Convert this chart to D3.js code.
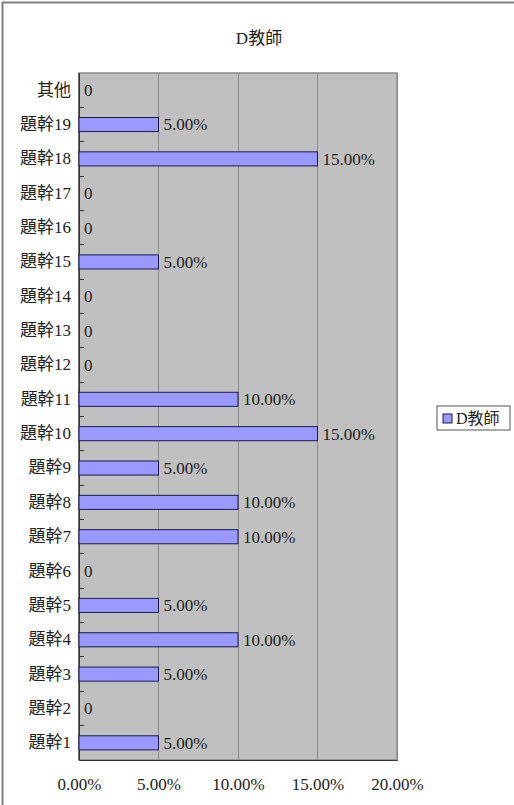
<!DOCTYPE html>
<html><head><meta charset="utf-8">
<script src="https://cdn.jsdelivr.net/npm/d3@7"></script>
<style>body{margin:0;background:#fff}svg{display:block}text{font-family:"Liberation Serif","Noto Sans CJK TC",serif}</style>
</head><body><svg id="c" width="514" height="805"></svg>
<script>
const categories = ["題幹1","題幹2","題幹3","題幹4","題幹5","題幹6","題幹7","題幹8","題幹9","題幹10","題幹11","題幹12","題幹13","題幹14","題幹15","題幹16","題幹17","題幹18","題幹19","其他"];
const values = [0.05,0,0.05,0.10,0.05,0,0.10,0.10,0.05,0.15,0.10,0,0,0,0.05,0,0,0.15,0.05,0];
const xTicks = [0,0.05,0.10,0.15,0.20];
const seriesName = "D教師";
const title = "D教師";

const svg = d3.select("#c");
// outer frame
svg.append("rect").attr("x",2.5).attr("y",2.5).attr("width",520).attr("height",820)
  .attr("fill","none").attr("stroke","#808080").attr("stroke-width",2);

const L=79, R=397, T=73, B=760;
const FONT = "'Liberation Serif', 'Noto Sans CJK TC', serif";
const x = d3.scaleLinear().domain([0,0.20]).range([L,R]);
const y = d3.scaleBand().domain(categories.slice().reverse()).range([T,B]).paddingInner(0.59).paddingOuter(0.295);
const yb = d3.scaleBand().domain(categories.slice().reverse()).range([T,B]);

svg.append("rect").attr("x",L).attr("y",T).attr("width",R-L).attr("height",B-T).attr("fill","#C0C0C0");
// gridlines
svg.append("g").selectAll("line").data(xTicks.slice(1)).join("line")
  .attr("x1",d=>x(d)).attr("x2",d=>x(d)).attr("y1",T).attr("y2",B)
  .attr("stroke","#8a8a8a").attr("stroke-width",1).attr("shape-rendering","crispEdges");
// plot border
svg.append("rect").attr("x",L).attr("y",T).attr("width",R-L).attr("height",B-T)
  .attr("fill","none").attr("stroke","#8a8a8a").attr("stroke-width",1.5);

// x axis
const xa = svg.append("g").attr("transform",`translate(0,${B})`)
  .call(d3.axisBottom(x).tickValues(xTicks).tickFormat(d=>(d*100).toFixed(2)+"%").tickSize(0).tickPadding(18));
xa.select(".domain").attr("stroke","#333").attr("stroke-width",1);
xa.selectAll("text").attr("font-size",17).attr("fill","#222").attr("font-family",FONT);

// y axis
const ya = svg.append("g").attr("transform",`translate(${L},0)`)
  .call(d3.axisLeft(y).tickSize(0).tickPadding(8));
ya.select(".domain").attr("stroke","#333");
ya.selectAll("text").attr("font-size",17).attr("fill","#222").attr("font-family",FONT);
// y tick marks at category boundaries (inside)
svg.append("g").selectAll("line").data(categories.slice(1)).join("line")
  .attr("x1",L).attr("x2",L+5).attr("y1",d=>yb(d)+yb.bandwidth()).attr("y2",d=>yb(d)+yb.bandwidth())
  .attr("stroke","#333").attr("shape-rendering","crispEdges");
svg.append("line").attr("x1",L).attr("x2",L).attr("y1",T).attr("y2",B).attr("stroke","#333");

// bars
svg.append("g").selectAll("rect").data(categories.map((c,i)=>({c,v:values[i]})).filter(d=>d.v>0)).join("rect")
  .attr("x",L).attr("y",d=>y(d.c)).attr("width",d=>x(d.v)-L).attr("height",y.bandwidth())
  .attr("fill","#9999FF").attr("stroke","#1a1a4d").attr("stroke-width",1);

// labels
svg.append("g").selectAll("text").data(categories.map((c,i)=>({c,v:values[i]}))).join("text")
  .attr("x",d=>x(d.v)+5).attr("y",d=>y(d.c)+y.bandwidth()/2).attr("dy","0.35em")
  .attr("font-size",17).attr("fill","#222").attr("font-family",FONT)
  .text(d=>d.v>0?(d.v*100).toFixed(2)+"%":"0");

// title
svg.append("text").attr("x",259).attr("y",44).attr("text-anchor","middle").attr("font-size",17).attr("fill","#222").attr("font-family",FONT).text(title);

// legend
const lg = svg.append("g").attr("transform","translate(437,406)");
lg.append("rect").attr("x",0).attr("y",0).attr("width",73).attr("height",24).attr("fill","#fff").attr("stroke","#555");
lg.append("rect").attr("x",6).attr("y",8).attr("width",9).attr("height",9).attr("fill","#9999FF").attr("stroke","#1a1a4d");
lg.append("text").attr("x",19).attr("y",18).attr("font-size",16).attr("fill","#222").attr("font-family",FONT).text(seriesName);
</script></body></html>
